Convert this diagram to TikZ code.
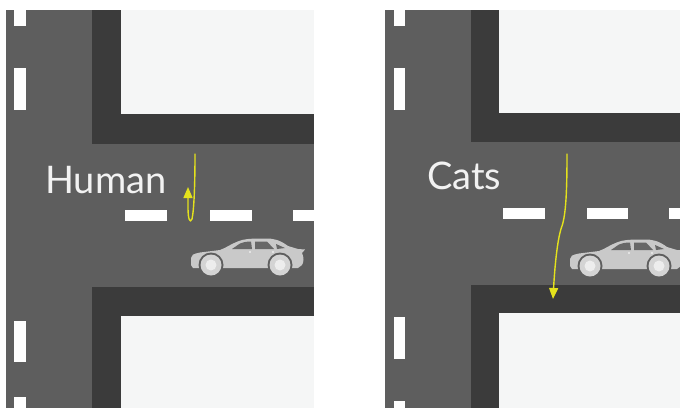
\documentclass[tikz,border=0pt]{standalone}
\usepackage{fontspec}
\setmainfont{Lato}
\usetikzlibrary{arrows.meta}
\definecolor{road}{HTML}{5E5E5E}
\definecolor{curb}{HTML}{3B3B3B}
\definecolor{lot}{HTML}{F5F6F6}
\definecolor{carbody}{HTML}{C9C9C9}
\definecolor{tyre}{HTML}{D4D4D4}
\definecolor{hub}{HTML}{EDEDED}
\definecolor{glass}{HTML}{676767}
\definecolor{pen}{HTML}{E4E21C}
\tikzset{
  lane/.style={fill=white, draw=none},
  label/.style={text=white!95!black, font=\fontsize{38}{40}\selectfont, inner sep=0pt, anchor=base west},
  path/.style={draw=pen, line width=1.4pt, line cap=round, line join=round},
  tip/.style={-{Triangle[length=11pt,width=9pt]}},
  car/.pic={
    % body
    \fill[carbody] (3,31) -- (1,28) -- (1,21) .. controls (1,18) and (3,17) .. (10,15.5)
      -- (30,13) .. controls (36,11) and (42,6) .. (52,3)
      .. controls (58,1.5) and (66,1.5) .. (76,1.5) .. controls (84,1.5) and (90,3) .. (98,9)
      -- (108,12) -- (115,12.5) -- (112,16)
      .. controls (114,20) and (114,25) .. (112,28) -- (108,31) -- cycle;
    % windows
    \fill[glass] (42,12) -- (50,6.5) .. controls (54,5) and (57,4.5) .. (61,4.5) -- (62,12) -- cycle;
    \fill[glass] (65,12) -- (65,4.5) -- (77,4.5) -- (84,12) -- cycle;
    \fill[glass] (86,7) -- (95,11) -- (87,12) -- cycle;
    % door handles
    \fill[hub] (60,15) circle (1.2);
    \fill[hub] (83,15) circle (1.2);
    % wheels
    \foreach \wx in {21,90}{
      \fill[road] (\wx,28) circle (12.5);
      \fill[tyre] (\wx,28) circle (10.5);
      \fill[hub] (\wx,28) circle (5.5);
    }
  }
}
\begin{document}
\begin{tikzpicture}[x=1pt,y=-1pt]
\useasboundingbox[fill=white] (0,0) rectangle (680,408);

% ---- left junction ----
\fill[road] (6,10) rectangle (314,408);
\fill[curb] (92,10) rectangle (314,144);
\fill[lot] (121,10) rectangle (314,114);
\fill[curb] (92,287) rectangle (314,408);
\fill[lot] (121,316) rectangle (314,408);
\foreach \a/\b in {10/26,68/110,321/362,397/408}
  \fill[lane] (14,\a) rectangle (26,\b);
\foreach \a/\b in {125/167,210/252,293/314}
  \fill[lane] (\a,210) rectangle (\b,221);
\pic at (190,237) {car};
\node[label] (human) at (45,193) {Human};
\coordinate (hstart) at (195,154);
\coordinate (hend) at (188,187);
\draw[path, tip] (hstart) .. controls (195,185) and (194,210) .. (192,219)
  .. controls (190,224) and (188,219) .. (188,208) -- (hend);

% ---- right junction ----
\begin{scope}
\clip (385,10) rectangle (680,408);
\fill[road] (385,10) rectangle (680,408);
\fill[curb] (471,10) rectangle (680,142);
\fill[lot] (499,10) rectangle (680,113);
\fill[curb] (471,285) rectangle (680,408);
\fill[lot] (499,313) rectangle (680,408);
\foreach \a/\b in {10/26,68/110,317/359,401/408}
  \fill[lane] (394,\a) rectangle (405,\b);
\foreach \a/\b in {503/545,587/628,669/680}
  \fill[lane] (\a,208) rectangle (\b,219);
\pic at (569,238) {car};
\end{scope}
\node[label] (cats) at (427,189) {Cats};
\coordinate (cstart) at (567,154);
\coordinate (cend) at (553,299);
\draw[path, tip] (cstart) .. controls (567,190) and (566,214) .. (562,226)
  .. controls (558,236) and (555,262) .. (cend);
\end{tikzpicture}
\end{document}
